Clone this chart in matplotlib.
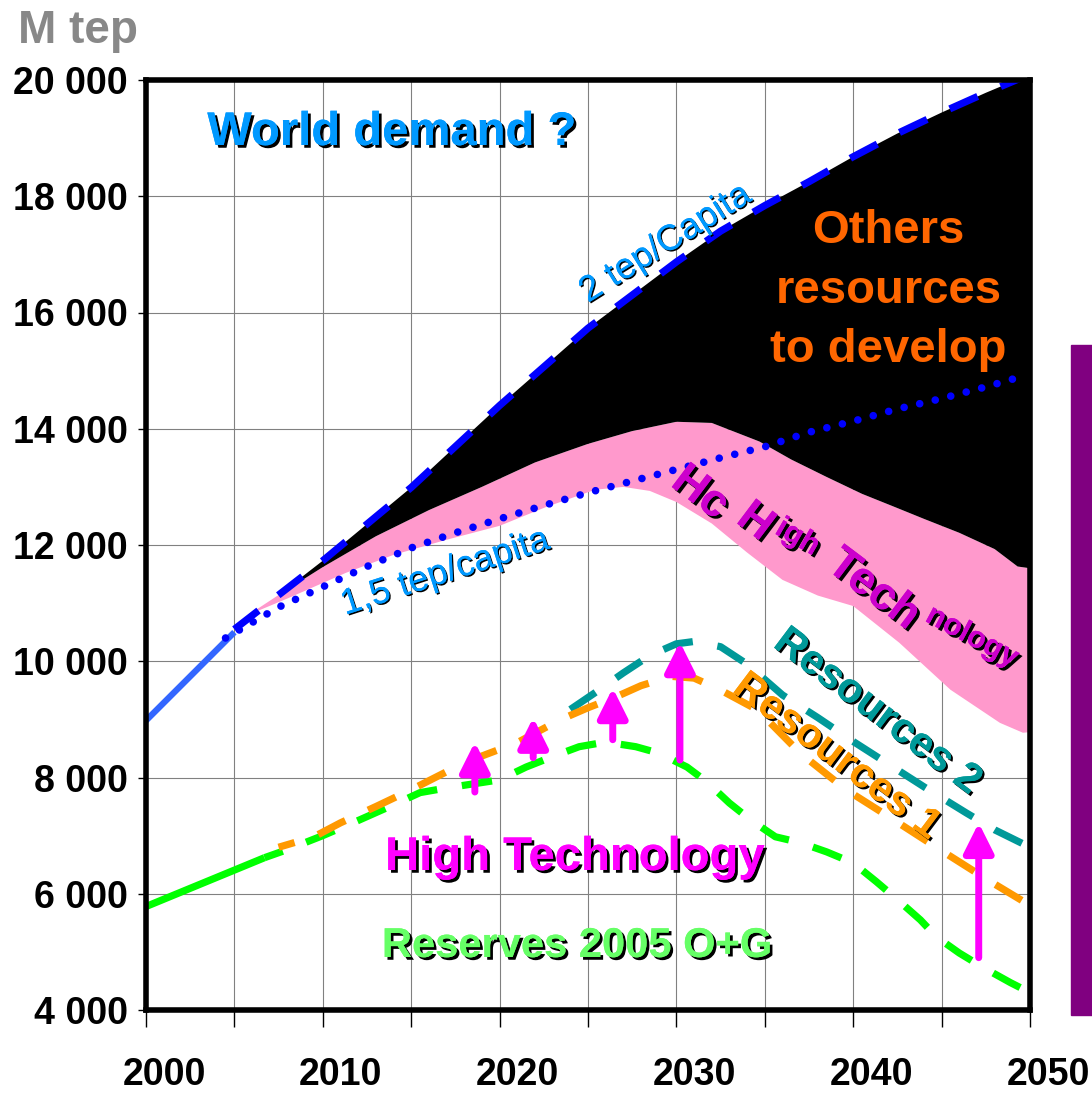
import numpy as np
import matplotlib
matplotlib.use("Agg")
import matplotlib.pyplot as plt
import matplotlib.patheffects as pe
import matplotlib.transforms as mtransforms
from matplotlib.patches import Rectangle

plt.rcParams["font.family"] = ["Liberation Sans", "DejaVu Sans"]
plt.rcParams["lines.scale_dashes"] = False

# ---------------- data (Mtep) ----------------
hist_years = [2000, 2005]
hist_vals = [8980, 10500]

demand2_years = [2005, 2010, 2015, 2020, 2025, 2027.5, 2030, 2032.5, 2035,
                 2037.5, 2040, 2042.5, 2045, 2047.5, 2050]
demand2_vals = [10550, 11730, 12990, 14400, 15730, 16300, 16870, 17400, 17840,
                18250, 18680, 19080, 19440, 19780, 20100]

demand15_years = [2004.5, 2007.5, 2010, 2012.5, 2015, 2017.5, 2020, 2022.5, 2025,
                  2027.5, 2030, 2032.5, 2035, 2037.5, 2040, 2042.5, 2045, 2047.5, 2049.2]
demand15_vals = [10400, 10930, 11280, 11630, 11950, 12210, 12450, 12680, 12900,
                 13100, 13300, 13500, 13690, 13940, 14130, 14340, 14520, 14720, 14870]

hc_top_years = [2005.8, 2007.5, 2010, 2013, 2016, 2019, 2022, 2025, 2027.5, 2030,
                2032, 2034.7, 2036.5, 2038.5, 2040.5, 2042.3, 2044, 2046, 2048, 2049.3, 2050]
hc_top_vals = [10800, 11140, 11620, 12150, 12600, 13000, 13420, 13740, 13960, 14120,
               14100, 13780, 13470, 13170, 12880, 12660, 12450, 12210, 11930, 11630, 11600]

hc_low_years = [2005.8, 2008, 2011.3, 2014, 2017, 2020, 2022.6, 2025.4, 2027, 2028.5,
                2030, 2032, 2034, 2036, 2038, 2040, 2042.6, 2045.5, 2048.3, 2049.6, 2050]
hc_low_vals = [10800, 11080, 11520, 11830, 12090, 12330, 12650, 12950, 13000, 12930,
               12740, 12370, 11870, 11400, 11130, 10950, 10320, 9510, 8940, 8770, 8780]

res2_years = [2024, 2025.5, 2027, 2028.5, 2030, 2031, 2032.5, 2034, 2036, 2038,
              2040, 2042, 2044, 2046.4, 2048, 2050]
res2_vals = [9170, 9480, 9800, 10100, 10300, 10340, 10250, 9950, 9420, 9030,
             8620, 8230, 7840, 7390, 7100, 6800]

res1_years = [2007.5, 2009.5, 2011, 2013, 2015, 2017.2, 2019, 2021, 2023.4, 2025,
              2026.6, 2028, 2029.7, 2031, 2032.4, 2034.6, 2037, 2039.6, 2042.3,
              2044.9, 2047.6, 2050]
res1_vals = [6800, 6980, 7220, 7500, 7790, 8130, 8370, 8600, 8990, 9200,
             9390, 9580, 9740, 9710, 9520, 9160, 8420, 7790, 7270,
             6760, 6240, 5800]

reserves_years = [2000, 2006.7, 2008, 2010, 2012, 2014, 2015.5, 2017, 2020, 2021.5,
                  2023, 2024.5, 2026, 2027.7, 2029, 2030.6, 2031.7, 2033, 2034.2,
                  2035.6, 2037, 2038.5, 2040, 2041.3, 2042.5, 2043.8, 2044.7, 2046,
                  2047.3, 2048.9, 2050]
reserves_vals = [5780, 6620, 6760, 7000, 7260, 7530, 7740, 7820, 7960, 8180,
                 8360, 8530, 8610, 8530, 8420, 8180, 7930, 7560, 7270,
                 6980, 6880, 6720, 6530, 6210, 5900, 5550, 5260, 4980,
                 4740, 4470, 4300]

# technology gains: year, from, to
tech_years = [2018.6, 2021.9, 2026.4, 2030.2, 2047.1]
tech_from = [7750, 8340, 8650, 8300, 4900]
tech_to = [8610, 9030, 9540, 10330, 7220]

y_ticks = [4000, 6000, 8000, 10000, 12000, 14000, 16000, 18000, 20000]
y_labels = ["4 000", "6 000", "8 000", "10 000", "12 000", "14 000",
            "16 000", "18 000", "20 000"]
x_major = [2000, 2010, 2020, 2030, 2040, 2050]
x_minor = [2005, 2015, 2025, 2035, 2045]

# ---------------- figure ----------------
W, H = 1092, 1093
fig = plt.figure(figsize=(W / 100, H / 100), dpi=100)
ax = fig.add_axes([146 / W, 1 - 1010 / H, (1030 - 146) / W, (1010 - 80) / H])
ax.set_xlim(2000, 2050)
ax.set_ylim(4000, 20000)

# grid and ticks
ax.set_axisbelow(True)
ax.set_xticks(x_major)
ax.set_xticks(x_minor, minor=True)
ax.set_yticks(y_ticks)
ax.set_yticklabels(y_labels, fontsize=27, fontweight="bold")
ax.set_xticklabels([str(v) for v in x_major], fontsize=27, fontweight="bold")
ax.grid(True, which="both", axis="x", color="#808080", lw=0.8)
ax.grid(True, which="major", axis="y", color="#808080", lw=0.8)
ax.tick_params(axis="x", which="both", direction="out", length=12, width=1,
               pad=22, colors="black")
ax.tick_params(axis="y", direction="out", length=6, width=1, pad=7)
shift = mtransforms.ScaledTranslation(0.18, 0, fig.dpi_scale_trans)
for lbl in ax.get_xticklabels():
    lbl.set_transform(lbl.get_transform() + shift)

for s in ax.spines.values():
    s.set_linewidth(4)
    s.set_zorder(6)

# filled bands
ht_x = np.array(hc_top_years)
ht_y = np.array(hc_top_vals)
hl_x = np.array(hc_low_years)
hl_y = np.array(hc_low_vals)
ax.fill(np.concatenate([ht_x, hl_x[::-1]]), np.concatenate([ht_y, hl_y[::-1]]),
        color="#FF99CC", lw=0, zorder=1)

d2x = np.array(demand2_years)
d2y = np.array(demand2_vals)
keep_top = d2x > 2007.5
keep_low = ht_x >= 2007.5
ax.fill(np.concatenate([d2x[keep_top], ht_x[keep_low][::-1]]),
        np.concatenate([d2y[keep_top], ht_y[keep_low][::-1]]),
        color="black", lw=0, zorder=1.5)

# lines
dash = (0, (22, 18))
ax.plot(hist_years, hist_vals, color="#3366FF", lw=4.5, solid_capstyle="butt", zorder=3)
ax.plot(demand2_years, demand2_vals, color="#0000FF", lw=5.2, ls=dash,
        dash_capstyle="butt", zorder=3.2)
ax.plot(demand15_years, demand15_vals, color="#0000FF", lw=5.5,
        ls=(0, (0.01, 11.5)), dash_capstyle="round", zorder=3.2)

ax.plot(reserves_years[:2], reserves_vals[:2], color="#00FF00", lw=5.2,
        solid_capstyle="butt", zorder=3)
ax.plot(reserves_years[1:], reserves_vals[1:], color="#00FF00", lw=5.2,
        ls=(8, (22, 18)), dash_capstyle="butt", zorder=3)
ax.plot(res2_years, res2_vals, color="#009999", lw=5.2, ls=dash,
        dash_capstyle="butt", zorder=3.1)
ax.plot(res1_years, res1_vals, color="#FF9900", lw=5.2, ls=(10, (22, 18)),
        dash_capstyle="butt", zorder=3.15)

for xv, y0, y1 in zip(tech_years, tech_from, tech_to):
    ax.annotate("", xy=(xv, y1), xytext=(xv, y0),
                arrowprops=dict(arrowstyle="-|>,head_length=0.9,head_width=0.45",
                                color="#FF00FF", lw=5, shrinkA=0, shrinkB=0,
                                mutation_scale=20),
                zorder=4)

# annotations
def shadow(d=2):
    return [pe.withSimplePatchShadow(offset=(d, -d), shadow_rgbFace="black", alpha=1.0),
            pe.Normal()]

ax.text(2013.91, 18882, "World demand ?", color="#0099FF", fontsize=34,
        fontweight="bold", ha="center", va="baseline", path_effects=shadow(2), zorder=5)

for txt, yv in [("Others", 17196), ("resources", 16164), ("to develop", 15149)]:
    ax.text(2042.0, yv, txt, color="#FF6600", fontsize=34, fontweight="bold",
            ha="center", va="baseline", zorder=5)

ax.text(2025.0, 16163, "2 tep/Capita", color="#0099FF", fontsize=26, rotation=32,
        rotation_mode="anchor", ha="left", va="baseline", path_effects=shadow(1), zorder=5)
ax.text(2011.26, 10796, "1,5 tep/capita", color="#0099FF", fontsize=26, rotation=18,
        rotation_mode="anchor", ha="left", va="baseline", path_effects=shadow(1), zorder=5)

hc_parts = [("Hc", 2029.6, 13030, -37, 33),
            ("H", 2033.3, 12400, -37, 33),
            ("igh", 2035.5, 12207, -30, 22),
            ("Tech", 2038.4, 11600, -37, 33),
            ("nology", 2044.0, 10700, -28, 22)]
for txt, xv, yv, rot, fs in hc_parts:
    ax.text(xv, yv, txt, color="#CC00CC", fontsize=fs, fontweight="bold", rotation=rot,
            rotation_mode="anchor", ha="left", va="baseline",
            path_effects=shadow(2), zorder=5)

ax.text(2035.4, 10262, "Resources 2", color="#009999", fontsize=30, fontweight="bold",
        rotation=-37, rotation_mode="anchor", ha="left", va="baseline",
        path_effects=shadow(1.5), zorder=5)
ax.text(2033.1, 9488, "Resources 1", color="#FF9900", fontsize=30, fontweight="bold",
        rotation=-37, rotation_mode="anchor", ha="left", va="baseline",
        path_effects=shadow(1.5), zorder=5)

ax.text(2024.26, 6409, "High Technology", color="#FF00FF", fontsize=34,
        fontweight="bold", ha="center", va="baseline", path_effects=shadow(2), zorder=5)
ax.text(2024.38, 4912, "Reserves 2005 O+G", color="#66FF66", fontsize=30,
        fontweight="bold", ha="center", va="baseline", path_effects=shadow(2), zorder=5)

fig.text(18 / W, 1 - 43 / H, "M tep", color="#888888", fontsize=33,
         fontweight="bold", ha="left", va="baseline")

fig.patches.append(Rectangle((1071 / W, 1 - 1015 / H), 21 / W, 670 / H,
                             transform=fig.transFigure, color="#800080", zorder=0))

fig.savefig("out.png", dpi=100)
